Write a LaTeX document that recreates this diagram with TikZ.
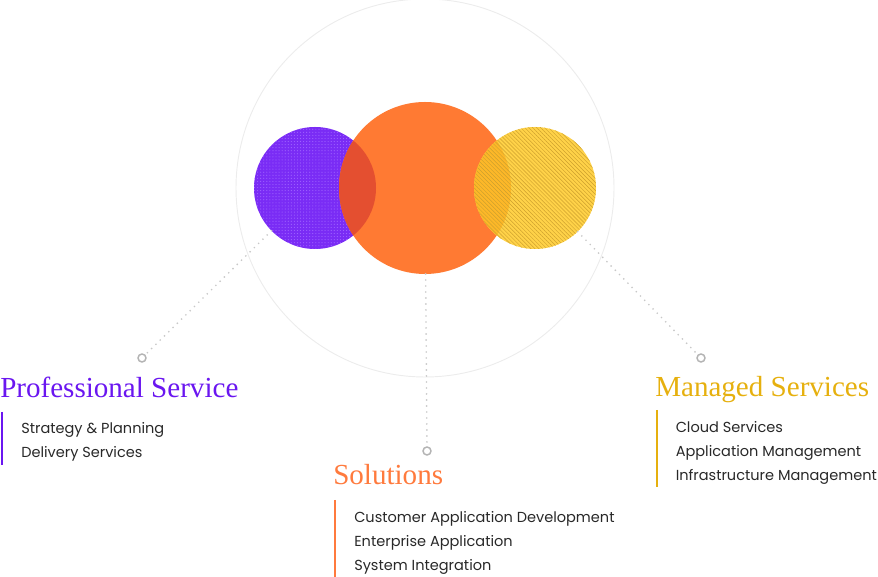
\documentclass[tikz,border=0pt]{standalone}
\usepackage{fontspec}
\setmainfont{Liberation Serif}
\newfontfamily\itemfont{Poppins}
\usepackage{tikz}
\usetikzlibrary{arrows,shapes,positioning,patterns.meta}
\usepackage{xcolor}
\definecolor{svpurple}{RGB}{122,44,245}
\definecolor{svpurpledot}{RGB}{158,98,255}
\definecolor{svpurpletext}{RGB}{106,22,240}
\definecolor{svorange}{RGB}{255,122,51}
\definecolor{svorangetext}{RGB}{255,122,61}
\definecolor{svred}{RGB}{228,79,48}
\definecolor{svyellow}{RGB}{255,210,72}
\definecolor{svyellowmix}{RGB}{253,184,40}
\definecolor{svhatch}{RGB}{205,160,45}
\definecolor{svgold}{RGB}{230,176,14}
\definecolor{svgray}{RGB}{200,200,200}
\definecolor{svring}{RGB}{180,180,180}
\definecolor{svfaint}{RGB}{236,236,236}
\definecolor{svtext}{RGB}{40,40,40}
\tikzstyle{leader} = [line width=1.4pt, dash pattern=on 0pt off 4.5pt, line cap=round, color=svgray]
\tikzstyle{endring} = [circle, draw=svring, line width=1.1pt, minimum size=6pt, inner sep=0pt, fill=white]

\begin{document}
\begin{tikzpicture}[x=0.75pt, y=0.75pt,
    disc/.style={circle, inner sep=0pt, outer sep=0pt},
    heading/.style={anchor=base west, inner sep=0pt, font=\fontsize{21.8}{26}\selectfont},
    entry/.style={anchor=base west, inner sep=0pt, text=svtext, font=\itemfont\fontsize{10.9}{13}\selectfont},
    bar/.style={line width=0.8pt}]
\useasboundingbox (0,0) rectangle (878,577);

% Outer ring
\node[disc, draw=svfaint, line width=0.7pt, minimum size=283.5pt] (ring) at (425,389) {};

% Circles
\node[disc, fill=svpurple, minimum size=91.5pt,
      postaction={pattern={Dots[distance=2.3pt, radius=0.45pt]}, pattern color=svpurpledot}] (prof) at (315,389) {};
\node[disc, fill=svorange, minimum size=129pt] (sol) at (425,389) {};
\begin{scope}
  \clip (prof.center) circle (61);
  \fill[svred] (sol.center) circle (86);
\end{scope}
\node[disc, fill=svyellow, minimum size=91.5pt] (man) at (535,389) {};
\begin{scope}
  \clip (man.center) circle (61);
  \fill[svyellowmix] (sol.center) circle (86);
\end{scope}
\fill[pattern={Lines[angle=-45, distance=2.1pt, line width=0.35pt]}, pattern color=svhatch] (man.center) circle (61);

% End rings
\node[endring] (profring) at (142,219) {};
\node[endring] (solring) at (427,126) {};
\node[endring] (manring) at (701,219) {};

% Leaders
\draw[leader] (prof) -- (profring);
\draw[leader] (sol) -- (solring);
\draw[leader] (man) -- (manring);

% Professional Service
\node[heading, text=svpurpletext] (profhead) at (0,179) {Professional Service};
\draw[bar, svpurpletext] (2,165) -- (2,112);
\node[entry] (strategy) at (21,143) {Strategy \& Planning};
\node[entry] (delivery) at (21,119) {Delivery Services};

% Solutions
\node[heading, text=svorangetext] (solhead) at (333,92) {Solutions};
\draw[bar, svorangetext] (335,77) -- (335,0);
\node[entry] (custdev) at (354,54) {Customer Application Development};
\node[entry] (enterprise) at (354,30) {Enterprise Application};
\node[entry] (sysint) at (354,6) {System Integration};

% Managed Services
\node[heading, text=svgold] (manhead) at (655,180) {Managed Services};
\draw[bar, svgold] (657,167) -- (657,90);
\node[entry] (cloud) at (675.5,144) {Cloud Services};
\node[entry] (appmgmt) at (675.5,120) {Application Management};
\node[entry] (inframgmt) at (675.5,96) {Infrastructure Management};
\end{tikzpicture}
\end{document}
